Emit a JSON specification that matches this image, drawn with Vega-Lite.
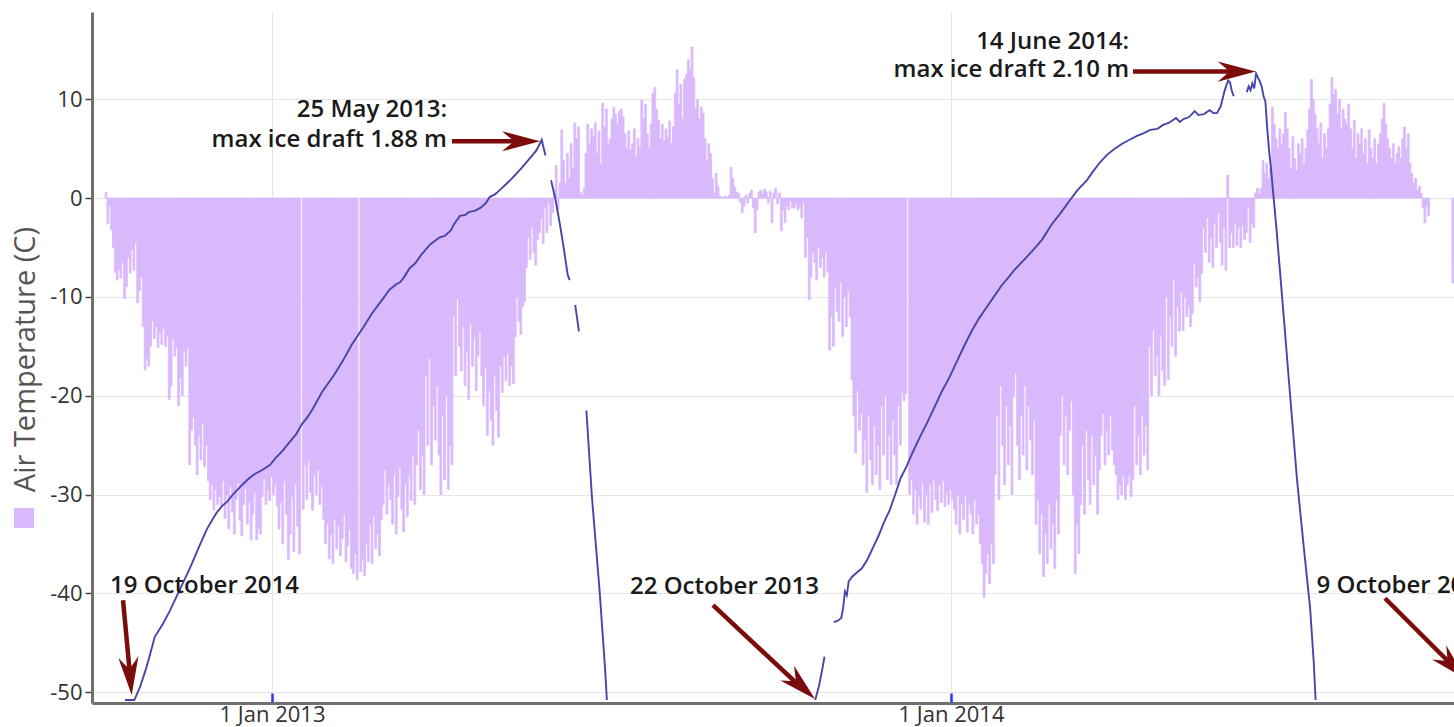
{
"$schema":"https://vega.github.io/schema/vega-lite/v6.json",
"width":1362,"height":691,"autosize":"none",
"padding":{"left":92,"top":12,"right":0,"bottom":24},
"background":"white",
"config":{"view":{"stroke":null},"font":"Open Sans"},
"datasets":{
"temp":[
{"d":"2012-10-03","t":0.6},{"d":"2012-10-04","t":-2.6},{"d":"2012-10-05","t":-0.8},{"d":"2012-10-06","t":-3.2},{"d":"2012-10-07","t":-5.0},{"d":"2012-10-08","t":-7.5},{"d":"2012-10-09","t":-8.3},{"d":"2012-10-10","t":-7.2},{"d":"2012-10-11","t":-8.1},{"d":"2012-10-12","t":-6.5},{"d":"2012-10-13","t":-10.2},{"d":"2012-10-14","t":-9.0},{"d":"2012-10-15","t":-6.0},{"d":"2012-10-16","t":-7.6},{"d":"2012-10-17","t":-5.2},{"d":"2012-10-18","t":-7.3},{"d":"2012-10-19","t":-4.5},{"d":"2012-10-20","t":-10.6},{"d":"2012-10-21","t":-9.4},{"d":"2012-10-22","t":-8.0},{"d":"2012-10-23","t":-13.0},{"d":"2012-10-24","t":-17.4},{"d":"2012-10-25","t":-16.2},{"d":"2012-10-26","t":-17.0},{"d":"2012-10-27","t":-15.0},{"d":"2012-10-28","t":-12.4},{"d":"2012-10-29","t":-14.2},{"d":"2012-10-30","t":-13.0},{"d":"2012-10-31","t":-15.1},
{"d":"2012-11-01","t":-13.6},{"d":"2012-11-02","t":-14.8},{"d":"2012-11-03","t":-13.2},{"d":"2012-11-04","t":-15.0},{"d":"2012-11-05","t":-14.0},{"d":"2012-11-06","t":-20.4},{"d":"2012-11-07","t":-19.0},{"d":"2012-11-08","t":-14.2},{"d":"2012-11-09","t":-16.0},{"d":"2012-11-10","t":-15.1},{"d":"2012-11-11","t":-21.0},{"d":"2012-11-12","t":-18.2},{"d":"2012-11-13","t":-20.0},{"d":"2012-11-14","t":-15.5},{"d":"2012-11-15","t":-17.0},{"d":"2012-11-16","t":-15.2},{"d":"2012-11-17","t":-27.0},{"d":"2012-11-18","t":-23.5},{"d":"2012-11-19","t":-22.2},{"d":"2012-11-20","t":-25.0},{"d":"2012-11-21","t":-28.0},{"d":"2012-11-22","t":-24.0},{"d":"2012-11-23","t":-26.5},{"d":"2012-11-24","t":-22.8},{"d":"2012-11-25","t":-27.2},{"d":"2012-11-26","t":-25.0},{"d":"2012-11-27","t":-28.6},{"d":"2012-11-28","t":-30.5},{"d":"2012-11-29","t":-29.0},{"d":"2012-11-30","t":-31.6},
{"d":"2012-12-01","t":-29.5},{"d":"2012-12-02","t":-31.0},{"d":"2012-12-03","t":-30.2},{"d":"2012-12-04","t":-31.2},{"d":"2012-12-05","t":-28.6},{"d":"2012-12-06","t":-32.4},{"d":"2012-12-07","t":-30.0},{"d":"2012-12-08","t":-33.5},{"d":"2012-12-09","t":-29.2},{"d":"2012-12-10","t":-31.8},{"d":"2012-12-11","t":-34.0},{"d":"2012-12-12","t":-30.5},{"d":"2012-12-13","t":-28.8},{"d":"2012-12-14","t":-32.6},{"d":"2012-12-15","t":-34.2},{"d":"2012-12-16","t":-31.0},{"d":"2012-12-17","t":-29.4},{"d":"2012-12-18","t":-33.0},{"d":"2012-12-19","t":-30.8},{"d":"2012-12-20","t":-34.6},{"d":"2012-12-21","t":-32.0},{"d":"2012-12-22","t":-29.8},{"d":"2012-12-23","t":-34.6},{"d":"2012-12-24","t":-33.4},{"d":"2012-12-25","t":-34.0},{"d":"2012-12-26","t":-30.2},{"d":"2012-12-27","t":-28.4},{"d":"2012-12-28","t":-31.0},{"d":"2012-12-29","t":-29.5},{"d":"2012-12-30","t":-30.6},{"d":"2012-12-31","t":-28.2},
{"d":"2013-01-01","t":-30.0},{"d":"2013-01-02","t":-29.0},{"d":"2013-01-03","t":-31.2},{"d":"2013-01-04","t":-33.5},{"d":"2013-01-05","t":-30.8},{"d":"2013-01-06","t":-35.0},{"d":"2013-01-07","t":-28.6},{"d":"2013-01-08","t":-32.0},{"d":"2013-01-09","t":-36.6},{"d":"2013-01-10","t":-34.0},{"d":"2013-01-11","t":-30.2},{"d":"2013-01-12","t":-35.8},{"d":"2013-01-13","t":-29.0},{"d":"2013-01-14","t":-33.2},{"d":"2013-01-15","t":-36.0},{"d":"2013-01-17","t":-31.5},{"d":"2013-01-18","t":-27.0},{"d":"2013-01-19","t":-30.5},{"d":"2013-01-20","t":-26.6},{"d":"2013-01-21","t":-29.8},{"d":"2013-01-22","t":-31.6},{"d":"2013-01-23","t":-28.0},{"d":"2013-01-24","t":-30.0},{"d":"2013-01-25","t":-27.5},{"d":"2013-01-26","t":-31.0},{"d":"2013-01-27","t":-29.2},{"d":"2013-01-28","t":-32.5},{"d":"2013-01-29","t":-35.0},{"d":"2013-01-30","t":-33.0},{"d":"2013-01-31","t":-36.5},
{"d":"2013-02-01","t":-34.0},{"d":"2013-02-02","t":-37.0},{"d":"2013-02-03","t":-32.5},{"d":"2013-02-04","t":-35.5},{"d":"2013-02-05","t":-33.2},{"d":"2013-02-06","t":-36.2},{"d":"2013-02-07","t":-34.5},{"d":"2013-02-08","t":-32.0},{"d":"2013-02-09","t":-36.8},{"d":"2013-02-10","t":-35.2},{"d":"2013-02-11","t":-33.5},{"d":"2013-02-12","t":-37.5},{"d":"2013-02-13","t":-38.0},{"d":"2013-02-14","t":-36.0},{"d":"2013-02-15","t":-38.6},{"d":"2013-02-17","t":-37.8},{"d":"2013-02-18","t":-36.5},{"d":"2013-02-19","t":-38.2},{"d":"2013-02-20","t":-35.0},{"d":"2013-02-21","t":-36.8},{"d":"2013-02-22","t":-33.0},{"d":"2013-02-23","t":-37.0},{"d":"2013-02-24","t":-32.2},{"d":"2013-02-25","t":-35.5},{"d":"2013-02-26","t":-34.0},{"d":"2013-02-27","t":-36.2},{"d":"2013-02-28","t":-32.5},
{"d":"2013-03-01","t":-31.0},{"d":"2013-03-02","t":-27.5},{"d":"2013-03-03","t":-32.0},{"d":"2013-03-04","t":-29.0},{"d":"2013-03-05","t":-30.5},{"d":"2013-03-06","t":-33.0},{"d":"2013-03-07","t":-28.0},{"d":"2013-03-08","t":-34.0},{"d":"2013-03-09","t":-30.2},{"d":"2013-03-10","t":-27.2},{"d":"2013-03-11","t":-31.5},{"d":"2013-03-12","t":-33.8},{"d":"2013-03-13","t":-29.0},{"d":"2013-03-14","t":-32.2},{"d":"2013-03-15","t":-28.0},{"d":"2013-03-16","t":-30.6},{"d":"2013-03-17","t":-26.0},{"d":"2013-03-18","t":-31.0},{"d":"2013-03-19","t":-27.0},{"d":"2013-03-20","t":-23.5},{"d":"2013-03-21","t":-29.5},{"d":"2013-03-22","t":-26.0},{"d":"2013-03-23","t":-30.0},{"d":"2013-03-24","t":-18.0},{"d":"2013-03-25","t":-25.0},{"d":"2013-03-26","t":-16.2},{"d":"2013-03-27","t":-27.0},{"d":"2013-03-28","t":-21.0},{"d":"2013-03-29","t":-24.5},{"d":"2013-03-30","t":-19.0},{"d":"2013-03-31","t":-26.0},
{"d":"2013-04-01","t":-30.0},{"d":"2013-04-02","t":-22.0},{"d":"2013-04-03","t":-28.5},{"d":"2013-04-04","t":-20.0},{"d":"2013-04-05","t":-29.5},{"d":"2013-04-06","t":-25.0},{"d":"2013-04-07","t":-27.0},{"d":"2013-04-08","t":-12.0},{"d":"2013-04-09","t":-18.0},{"d":"2013-04-10","t":-10.2},{"d":"2013-04-11","t":-15.0},{"d":"2013-04-12","t":-17.5},{"d":"2013-04-13","t":-13.0},{"d":"2013-04-14","t":-19.0},{"d":"2013-04-15","t":-15.5},{"d":"2013-04-16","t":-20.4},{"d":"2013-04-17","t":-12.7},{"d":"2013-04-18","t":-17.0},{"d":"2013-04-19","t":-14.2},{"d":"2013-04-20","t":-19.5},{"d":"2013-04-21","t":-16.0},{"d":"2013-04-22","t":-13.5},{"d":"2013-04-23","t":-18.0},{"d":"2013-04-24","t":-21.0},{"d":"2013-04-25","t":-17.2},{"d":"2013-04-26","t":-24.0},{"d":"2013-04-27","t":-19.5},{"d":"2013-04-28","t":-22.5},{"d":"2013-04-29","t":-25.0},{"d":"2013-04-30","t":-18.0},
{"d":"2013-05-01","t":-21.5},{"d":"2013-05-02","t":-24.2},{"d":"2013-05-03","t":-17.0},{"d":"2013-05-04","t":-19.7},{"d":"2013-05-05","t":-16.0},{"d":"2013-05-06","t":-18.5},{"d":"2013-05-07","t":-15.7},{"d":"2013-05-08","t":-19.0},{"d":"2013-05-09","t":-17.0},{"d":"2013-05-10","t":-18.8},{"d":"2013-05-11","t":-14.0},{"d":"2013-05-12","t":-10.0},{"d":"2013-05-13","t":-12.5},{"d":"2013-05-14","t":-13.8},{"d":"2013-05-15","t":-11.0},{"d":"2013-05-16","t":-10.5},{"d":"2013-05-17","t":-7.0},{"d":"2013-05-18","t":-4.0},{"d":"2013-05-19","t":-6.2},{"d":"2013-05-20","t":-3.0},{"d":"2013-05-21","t":-5.5},{"d":"2013-05-22","t":-6.8},{"d":"2013-05-23","t":-4.2},{"d":"2013-05-24","t":-3.5},{"d":"2013-05-25","t":-2.0},{"d":"2013-05-26","t":-4.6},{"d":"2013-05-27","t":-1.0},{"d":"2013-05-28","t":-3.5},{"d":"2013-05-29","t":-0.5},{"d":"2013-05-30","t":-2.8},{"d":"2013-05-31","t":-1.5},
{"d":"2013-06-01","t":0.8},{"d":"2013-06-02","t":3.3},{"d":"2013-06-03","t":-1.2},{"d":"2013-06-04","t":1.5},{"d":"2013-06-05","t":6.9},{"d":"2013-06-06","t":3.8},{"d":"2013-06-07","t":1.5},{"d":"2013-06-08","t":4.5},{"d":"2013-06-09","t":2.0},{"d":"2013-06-10","t":5.5},{"d":"2013-06-11","t":3.0},{"d":"2013-06-12","t":7.6},{"d":"2013-06-13","t":6.0},{"d":"2013-06-14","t":7.2},{"d":"2013-06-15","t":0.6},{"d":"2013-06-16","t":0.3},{"d":"2013-06-17","t":1.0},{"d":"2013-06-18","t":4.5},{"d":"2013-06-19","t":7.5},{"d":"2013-06-20","t":5.5},{"d":"2013-06-21","t":7.0},{"d":"2013-06-22","t":6.2},{"d":"2013-06-23","t":7.6},{"d":"2013-06-24","t":4.5},{"d":"2013-06-25","t":6.8},{"d":"2013-06-26","t":3.5},{"d":"2013-06-27","t":9.6},{"d":"2013-06-28","t":7.2},{"d":"2013-06-29","t":9.0},{"d":"2013-06-30","t":5.5},
{"d":"2013-07-01","t":6.0},{"d":"2013-07-02","t":8.0},{"d":"2013-07-03","t":9.2},{"d":"2013-07-04","t":8.5},{"d":"2013-07-05","t":7.5},{"d":"2013-07-06","t":8.8},{"d":"2013-07-07","t":9.0},{"d":"2013-07-08","t":8.2},{"d":"2013-07-09","t":6.5},{"d":"2013-07-10","t":5.0},{"d":"2013-07-11","t":6.8},{"d":"2013-07-12","t":4.8},{"d":"2013-07-13","t":5.5},{"d":"2013-07-14","t":7.0},{"d":"2013-07-15","t":4.2},{"d":"2013-07-16","t":6.0},{"d":"2013-07-17","t":5.2},{"d":"2013-07-18","t":9.9},{"d":"2013-07-19","t":8.0},{"d":"2013-07-20","t":9.5},{"d":"2013-07-21","t":6.5},{"d":"2013-07-22","t":5.0},{"d":"2013-07-23","t":7.5},{"d":"2013-07-24","t":10.6},{"d":"2013-07-25","t":11.2},{"d":"2013-07-26","t":9.0},{"d":"2013-07-27","t":7.9},{"d":"2013-07-28","t":6.0},{"d":"2013-07-29","t":7.5},{"d":"2013-07-30","t":5.8},{"d":"2013-07-31","t":7.0},
{"d":"2013-08-01","t":6.2},{"d":"2013-08-02","t":7.8},{"d":"2013-08-03","t":5.5},{"d":"2013-08-04","t":7.2},{"d":"2013-08-05","t":10.6},{"d":"2013-08-06","t":13.0},{"d":"2013-08-07","t":9.5},{"d":"2013-08-08","t":11.5},{"d":"2013-08-09","t":8.0},{"d":"2013-08-10","t":12.0},{"d":"2013-08-11","t":12.5},{"d":"2013-08-12","t":14.0},{"d":"2013-08-13","t":13.0},{"d":"2013-08-14","t":15.3},{"d":"2013-08-15","t":12.2},{"d":"2013-08-16","t":9.0},{"d":"2013-08-17","t":10.0},{"d":"2013-08-18","t":8.0},{"d":"2013-08-19","t":9.2},{"d":"2013-08-20","t":8.6},{"d":"2013-08-21","t":6.0},{"d":"2013-08-22","t":3.8},{"d":"2013-08-23","t":5.5},{"d":"2013-08-24","t":4.5},{"d":"2013-08-25","t":2.0},{"d":"2013-08-26","t":0.5},{"d":"2013-08-27","t":2.5},{"d":"2013-08-28","t":1.2},{"d":"2013-08-29","t":0.2},{"d":"2013-08-30","t":0.1},{"d":"2013-08-31","t":0.1},
{"d":"2013-09-01","t":0.2},{"d":"2013-09-02","t":0.0},{"d":"2013-09-03","t":0.3},{"d":"2013-09-04","t":3.1},{"d":"2013-09-05","t":2.0},{"d":"2013-09-06","t":1.1},{"d":"2013-09-07","t":0.6},{"d":"2013-09-08","t":0.5},{"d":"2013-09-09","t":-0.4},{"d":"2013-09-10","t":-1.5},{"d":"2013-09-11","t":-0.8},{"d":"2013-09-12","t":0.3},{"d":"2013-09-13","t":-0.5},{"d":"2013-09-14","t":0.5},{"d":"2013-09-15","t":0.8},{"d":"2013-09-16","t":-1.0},{"d":"2013-09-17","t":-3.5},{"d":"2013-09-18","t":-1.2},{"d":"2013-09-19","t":0.6},{"d":"2013-09-20","t":0.8},{"d":"2013-09-21","t":0.4},{"d":"2013-09-22","t":0.9},{"d":"2013-09-23","t":0.6},{"d":"2013-09-24","t":-0.5},{"d":"2013-09-25","t":0.7},{"d":"2013-09-26","t":-2.5},{"d":"2013-09-27","t":0.5},{"d":"2013-09-28","t":1.0},{"d":"2013-09-29","t":-0.6},{"d":"2013-09-30","t":0.5},
{"d":"2013-10-01","t":-3.3},{"d":"2013-10-02","t":-1.2},{"d":"2013-10-03","t":-2.5},{"d":"2013-10-04","t":-0.8},{"d":"2013-10-05","t":-1.2},{"d":"2013-10-06","t":-0.3},{"d":"2013-10-07","t":-1.0},{"d":"2013-10-08","t":-1.0},{"d":"2013-10-09","t":-0.6},{"d":"2013-10-10","t":-1.2},{"d":"2013-10-11","t":-0.9},{"d":"2013-10-12","t":-2.0},{"d":"2013-10-13","t":-0.5},{"d":"2013-10-14","t":-6.0},{"d":"2013-10-15","t":-4.0},{"d":"2013-10-16","t":-10.3},{"d":"2013-10-17","t":-8.0},{"d":"2013-10-18","t":-5.5},{"d":"2013-10-19","t":-6.5},{"d":"2013-10-20","t":-8.3},{"d":"2013-10-21","t":-5.0},{"d":"2013-10-22","t":-7.0},{"d":"2013-10-23","t":-6.0},{"d":"2013-10-24","t":-8.0},{"d":"2013-10-25","t":-5.5},{"d":"2013-10-26","t":-7.5},{"d":"2013-10-27","t":-15.4},{"d":"2013-10-28","t":-12.0},{"d":"2013-10-29","t":-15.0},{"d":"2013-10-30","t":-9.0},{"d":"2013-10-31","t":-11.5},
{"d":"2013-11-01","t":-12.5},{"d":"2013-11-02","t":-8.5},{"d":"2013-11-03","t":-14.0},{"d":"2013-11-04","t":-10.0},{"d":"2013-11-05","t":-13.0},{"d":"2013-11-06","t":-9.5},{"d":"2013-11-07","t":-12.0},{"d":"2013-11-08","t":-18.4},{"d":"2013-11-09","t":-22.0},{"d":"2013-11-10","t":-25.8},{"d":"2013-11-11","t":-19.5},{"d":"2013-11-12","t":-23.5},{"d":"2013-11-13","t":-21.8},{"d":"2013-11-14","t":-27.0},{"d":"2013-11-15","t":-24.5},{"d":"2013-11-16","t":-29.8},{"d":"2013-11-17","t":-22.0},{"d":"2013-11-18","t":-26.5},{"d":"2013-11-19","t":-29.0},{"d":"2013-11-20","t":-23.0},{"d":"2013-11-21","t":-28.0},{"d":"2013-11-22","t":-25.0},{"d":"2013-11-23","t":-29.5},{"d":"2013-11-24","t":-21.0},{"d":"2013-11-25","t":-26.0},{"d":"2013-11-26","t":-20.0},{"d":"2013-11-27","t":-28.5},{"d":"2013-11-28","t":-24.0},{"d":"2013-11-29","t":-29.0},{"d":"2013-11-30","t":-22.5},
{"d":"2013-12-01","t":-26.0},{"d":"2013-12-02","t":-29.0},{"d":"2013-12-03","t":-21.0},{"d":"2013-12-04","t":-25.0},{"d":"2013-12-05","t":-19.7},{"d":"2013-12-06","t":-20.5},{"d":"2013-12-07","t":-19.8},{"d":"2013-12-09","t":-30.0},{"d":"2013-12-10","t":-28.5},{"d":"2013-12-11","t":-32.0},{"d":"2013-12-12","t":-29.5},{"d":"2013-12-13","t":-33.0},{"d":"2013-12-14","t":-30.2},{"d":"2013-12-15","t":-31.5},{"d":"2013-12-16","t":-28.8},{"d":"2013-12-17","t":-32.8},{"d":"2013-12-18","t":-30.0},{"d":"2013-12-19","t":-33.0},{"d":"2013-12-20","t":-29.0},{"d":"2013-12-21","t":-31.8},{"d":"2013-12-22","t":-28.5},{"d":"2013-12-23","t":-30.5},{"d":"2013-12-24","t":-31.6},{"d":"2013-12-25","t":-29.0},{"d":"2013-12-26","t":-30.8},{"d":"2013-12-27","t":-28.6},{"d":"2013-12-28","t":-31.2},{"d":"2013-12-29","t":-29.8},{"d":"2013-12-30","t":-31.0},{"d":"2013-12-31","t":-29.5},
{"d":"2014-01-01","t":-30.5},{"d":"2014-01-02","t":-31.5},{"d":"2014-01-03","t":-33.0},{"d":"2014-01-04","t":-30.0},{"d":"2014-01-05","t":-34.0},{"d":"2014-01-06","t":-31.0},{"d":"2014-01-07","t":-32.5},{"d":"2014-01-08","t":-30.2},{"d":"2014-01-09","t":-33.8},{"d":"2014-01-10","t":-31.0},{"d":"2014-01-11","t":-32.0},{"d":"2014-01-12","t":-34.0},{"d":"2014-01-13","t":-30.5},{"d":"2014-01-14","t":-33.0},{"d":"2014-01-15","t":-32.0},{"d":"2014-01-16","t":-35.0},{"d":"2014-01-17","t":-37.0},{"d":"2014-01-18","t":-40.4},{"d":"2014-01-19","t":-38.0},{"d":"2014-01-20","t":-36.0},{"d":"2014-01-21","t":-39.0},{"d":"2014-01-22","t":-35.0},{"d":"2014-01-23","t":-37.0},{"d":"2014-01-24","t":-28.0},{"d":"2014-01-25","t":-22.0},{"d":"2014-01-26","t":-30.5},{"d":"2014-01-27","t":-19.0},{"d":"2014-01-28","t":-25.0},{"d":"2014-01-29","t":-29.0},{"d":"2014-01-30","t":-21.0},{"d":"2014-01-31","t":-27.0},
{"d":"2014-02-01","t":-23.0},{"d":"2014-02-02","t":-30.0},{"d":"2014-02-03","t":-20.0},{"d":"2014-02-04","t":-17.7},{"d":"2014-02-05","t":-25.0},{"d":"2014-02-06","t":-28.5},{"d":"2014-02-07","t":-22.0},{"d":"2014-02-08","t":-26.0},{"d":"2014-02-09","t":-19.0},{"d":"2014-02-10","t":-27.5},{"d":"2014-02-11","t":-21.0},{"d":"2014-02-12","t":-24.5},{"d":"2014-02-13","t":-28.0},{"d":"2014-02-14","t":-22.5},{"d":"2014-02-15","t":-33.0},{"d":"2014-02-16","t":-30.5},{"d":"2014-02-17","t":-36.0},{"d":"2014-02-18","t":-32.0},{"d":"2014-02-19","t":-38.3},{"d":"2014-02-20","t":-34.0},{"d":"2014-02-21","t":-37.0},{"d":"2014-02-22","t":-31.0},{"d":"2014-02-23","t":-35.5},{"d":"2014-02-24","t":-33.0},{"d":"2014-02-25","t":-37.5},{"d":"2014-02-26","t":-30.5},{"d":"2014-02-27","t":-34.0},{"d":"2014-02-28","t":-24.0},
{"d":"2014-03-01","t":-20.0},{"d":"2014-03-02","t":-27.0},{"d":"2014-03-03","t":-22.0},{"d":"2014-03-04","t":-28.0},{"d":"2014-03-05","t":-23.5},{"d":"2014-03-06","t":-20.5},{"d":"2014-03-07","t":-30.0},{"d":"2014-03-08","t":-38.0},{"d":"2014-03-09","t":-33.0},{"d":"2014-03-10","t":-36.0},{"d":"2014-03-11","t":-31.0},{"d":"2014-03-12","t":-25.0},{"d":"2014-03-13","t":-32.0},{"d":"2014-03-14","t":-23.5},{"d":"2014-03-15","t":-28.5},{"d":"2014-03-16","t":-31.0},{"d":"2014-03-17","t":-24.0},{"d":"2014-03-18","t":-29.0},{"d":"2014-03-19","t":-26.0},{"d":"2014-03-20","t":-32.0},{"d":"2014-03-21","t":-27.5},{"d":"2014-03-22","t":-24.0},{"d":"2014-03-23","t":-21.8},{"d":"2014-03-24","t":-27.0},{"d":"2014-03-25","t":-23.5},{"d":"2014-03-26","t":-26.0},{"d":"2014-03-27","t":-22.0},{"d":"2014-03-28","t":-25.5},{"d":"2014-03-29","t":-27.0},{"d":"2014-03-30","t":-28.0},{"d":"2014-03-31","t":-30.5},
{"d":"2014-04-01","t":-29.0},{"d":"2014-04-02","t":-30.0},{"d":"2014-04-03","t":-28.2},{"d":"2014-04-04","t":-30.5},{"d":"2014-04-05","t":-29.0},{"d":"2014-04-06","t":-28.0},{"d":"2014-04-07","t":-30.2},{"d":"2014-04-08","t":-28.5},{"d":"2014-04-09","t":-21.0},{"d":"2014-04-10","t":-27.0},{"d":"2014-04-11","t":-24.0},{"d":"2014-04-12","t":-28.0},{"d":"2014-04-13","t":-22.0},{"d":"2014-04-14","t":-26.0},{"d":"2014-04-15","t":-23.0},{"d":"2014-04-16","t":-27.5},{"d":"2014-04-17","t":-15.0},{"d":"2014-04-18","t":-20.0},{"d":"2014-04-19","t":-13.4},{"d":"2014-04-20","t":-18.0},{"d":"2014-04-21","t":-16.0},{"d":"2014-04-22","t":-20.0},{"d":"2014-04-23","t":-14.0},{"d":"2014-04-24","t":-17.5},{"d":"2014-04-25","t":-19.0},{"d":"2014-04-26","t":-10.0},{"d":"2014-04-27","t":-18.4},{"d":"2014-04-28","t":-12.0},{"d":"2014-04-29","t":-15.0},{"d":"2014-04-30","t":-8.3},
{"d":"2014-05-01","t":-16.0},{"d":"2014-05-02","t":-11.0},{"d":"2014-05-03","t":-13.5},{"d":"2014-05-04","t":-9.5},{"d":"2014-05-05","t":-13.4},{"d":"2014-05-06","t":-10.0},{"d":"2014-05-07","t":-12.0},{"d":"2014-05-08","t":-11.0},{"d":"2014-05-09","t":-13.0},{"d":"2014-05-10","t":-11.7},{"d":"2014-05-11","t":-6.6},{"d":"2014-05-12","t":-9.0},{"d":"2014-05-13","t":-8.0},{"d":"2014-05-14","t":-10.5},{"d":"2014-05-15","t":-7.6},{"d":"2014-05-16","t":-3.0},{"d":"2014-05-17","t":-5.5},{"d":"2014-05-18","t":-2.0},{"d":"2014-05-19","t":-6.5},{"d":"2014-05-20","t":-4.0},{"d":"2014-05-21","t":-7.0},{"d":"2014-05-22","t":-2.5},{"d":"2014-05-23","t":-5.0},{"d":"2014-05-24","t":-1.5},{"d":"2014-05-25","t":-4.5},{"d":"2014-05-26","t":-6.8},{"d":"2014-05-27","t":-3.0},{"d":"2014-05-28","t":-7.3},{"d":"2014-05-29","t":2.3},{"d":"2014-05-30","t":-5.0},{"d":"2014-05-31","t":-3.5},
{"d":"2014-06-01","t":-5.0},{"d":"2014-06-02","t":-2.5},{"d":"2014-06-03","t":-4.8},{"d":"2014-06-04","t":-3.0},{"d":"2014-06-05","t":-5.0},{"d":"2014-06-06","t":-2.8},{"d":"2014-06-07","t":-4.2},{"d":"2014-06-08","t":-3.5},{"d":"2014-06-09","t":-0.9},{"d":"2014-06-10","t":-4.5},{"d":"2014-06-11","t":-2.5},{"d":"2014-06-12","t":-3.0},{"d":"2014-06-13","t":0.5},{"d":"2014-06-14","t":1.0},{"d":"2014-06-15","t":0.4},{"d":"2014-06-16","t":1.0},{"d":"2014-06-17","t":3.8},{"d":"2014-06-18","t":2.5},{"d":"2014-06-19","t":3.5},{"d":"2014-06-20","t":2.0},{"d":"2014-06-21","t":3.0},{"d":"2014-06-22","t":9.2},{"d":"2014-06-23","t":7.5},{"d":"2014-06-24","t":6.0},{"d":"2014-06-25","t":5.0},{"d":"2014-06-26","t":7.0},{"d":"2014-06-27","t":5.5},{"d":"2014-06-28","t":6.5},{"d":"2014-06-29","t":8.7},{"d":"2014-06-30","t":7.0},
{"d":"2014-07-01","t":5.0},{"d":"2014-07-02","t":3.0},{"d":"2014-07-03","t":6.2},{"d":"2014-07-04","t":4.0},{"d":"2014-07-05","t":2.8},{"d":"2014-07-06","t":5.5},{"d":"2014-07-07","t":4.5},{"d":"2014-07-08","t":6.0},{"d":"2014-07-09","t":3.5},{"d":"2014-07-10","t":5.0},{"d":"2014-07-11","t":6.9},{"d":"2014-07-12","t":9.0},{"d":"2014-07-13","t":12.0},{"d":"2014-07-14","t":10.0},{"d":"2014-07-15","t":8.5},{"d":"2014-07-16","t":7.0},{"d":"2014-07-17","t":5.5},{"d":"2014-07-18","t":7.6},{"d":"2014-07-19","t":4.0},{"d":"2014-07-20","t":6.5},{"d":"2014-07-21","t":5.0},{"d":"2014-07-22","t":7.0},{"d":"2014-07-23","t":9.5},{"d":"2014-07-24","t":12.2},{"d":"2014-07-25","t":10.5},{"d":"2014-07-26","t":11.0},{"d":"2014-07-27","t":8.5},{"d":"2014-07-28","t":10.0},{"d":"2014-07-29","t":7.0},{"d":"2014-07-30","t":9.0},{"d":"2014-07-31","t":8.0},
{"d":"2014-08-01","t":7.5},{"d":"2014-08-02","t":9.5},{"d":"2014-08-03","t":7.0},{"d":"2014-08-04","t":5.0},{"d":"2014-08-05","t":7.9},{"d":"2014-08-06","t":4.0},{"d":"2014-08-07","t":6.5},{"d":"2014-08-08","t":5.5},{"d":"2014-08-09","t":7.0},{"d":"2014-08-10","t":4.5},{"d":"2014-08-11","t":6.0},{"d":"2014-08-12","t":3.5},{"d":"2014-08-13","t":6.9},{"d":"2014-08-14","t":5.0},{"d":"2014-08-15","t":4.0},{"d":"2014-08-16","t":6.0},{"d":"2014-08-17","t":3.5},{"d":"2014-08-18","t":5.5},{"d":"2014-08-19","t":6.5},{"d":"2014-08-20","t":8.0},{"d":"2014-08-21","t":9.6},{"d":"2014-08-22","t":7.5},{"d":"2014-08-23","t":6.0},{"d":"2014-08-24","t":5.0},{"d":"2014-08-25","t":4.0},{"d":"2014-08-26","t":5.5},{"d":"2014-08-27","t":3.5},{"d":"2014-08-28","t":4.5},{"d":"2014-08-29","t":5.2},{"d":"2014-08-30","t":4.0},{"d":"2014-08-31","t":6.0},
{"d":"2014-09-01","t":7.2},{"d":"2014-09-02","t":5.0},{"d":"2014-09-03","t":6.5},{"d":"2014-09-04","t":3.5},{"d":"2014-09-05","t":2.5},{"d":"2014-09-06","t":1.5},{"d":"2014-09-07","t":2.0},{"d":"2014-09-08","t":0.8},{"d":"2014-09-09","t":1.2},{"d":"2014-09-10","t":0.5},{"d":"2014-09-11","t":-1.0},{"d":"2014-09-12","t":-2.5},{"d":"2014-09-13","t":-0.8},{"d":"2014-09-14","t":-1.8},{"d":"2014-09-27","t":-8.6},{"d":"2014-09-28","t":-6.0}
],
"draft":[
{"d":"2012-10-14","v":-50.8,"s":"a"},{"d":"2012-10-19","v":-50.8,"s":"a"},{"d":"2012-10-22","v":-49.5,"s":"a"},{"d":"2012-10-25","v":-47.8,"s":"a"},{"d":"2012-10-27","v":-46.5,"s":"a"},{"d":"2012-10-30","v":-44.4,"s":"a"},{"d":"2012-11-03","v":-43.2,"s":"a"},{"d":"2012-11-07","v":-41.8,"s":"a"},{"d":"2012-11-12","v":-39.8,"s":"a"},{"d":"2012-11-18","v":-37.4,"s":"a"},{"d":"2012-11-23","v":-35.2,"s":"a"},{"d":"2012-11-27","v":-33.5,"s":"a"},{"d":"2012-12-02","v":-31.9,"s":"a"},{"d":"2012-12-05","v":-31.2,"s":"a"},{"d":"2012-12-08","v":-30.7,"s":"a"},{"d":"2012-12-11","v":-30.0,"s":"a"},{"d":"2012-12-15","v":-29.2,"s":"a"},{"d":"2012-12-20","v":-28.3,"s":"a"},{"d":"2012-12-23","v":-27.9,"s":"a"},{"d":"2012-12-27","v":-27.5,"s":"a"},{"d":"2012-12-31","v":-27.0,"s":"a"},{"d":"2013-01-03","v":-26.3,"s":"a"},{"d":"2013-01-07","v":-25.5,"s":"a"},{"d":"2013-01-10","v":-24.8,"s":"a"},{"d":"2013-01-14","v":-23.9,"s":"a"},{"d":"2013-01-17","v":-22.9,"s":"a"},{"d":"2013-01-20","v":-22.2,"s":"a"},{"d":"2013-01-23","v":-21.3,"s":"a"},{"d":"2013-01-28","v":-19.6,"s":"a"},{"d":"2013-02-03","v":-18.0,"s":"a"},{"d":"2013-02-08","v":-16.5,"s":"a"},{"d":"2013-02-13","v":-14.8,"s":"a"},{"d":"2013-02-19","v":-13.1,"s":"a"},{"d":"2013-02-24","v":-11.6,"s":"a"},{"d":"2013-03-02","v":-10.1,"s":"a"},{"d":"2013-03-05","v":-9.3,"s":"a"},{"d":"2013-03-09","v":-8.7,"s":"a"},{"d":"2013-03-11","v":-8.5,"s":"a"},{"d":"2013-03-13","v":-8.0,"s":"a"},{"d":"2013-03-16","v":-7.1,"s":"a"},{"d":"2013-03-19","v":-6.6,"s":"a"},{"d":"2013-03-22","v":-5.8,"s":"a"},{"d":"2013-03-27","v":-4.7,"s":"a"},{"d":"2013-04-01","v":-4.0,"s":"a"},{"d":"2013-04-04","v":-3.8,"s":"a"},{"d":"2013-04-07","v":-3.3,"s":"a"},{"d":"2013-04-09","v":-2.6,"s":"a"},{"d":"2013-04-12","v":-1.8,"s":"a"},{"d":"2013-04-15","v":-1.7,"s":"a"},{"d":"2013-04-17","v":-1.4,"s":"a"},{"d":"2013-04-20","v":-1.3,"s":"a"},{"d":"2013-04-23","v":-1.0,"s":"a"},{"d":"2013-04-26","v":-0.5,"s":"a"},{"d":"2013-04-28","v":0.1,"s":"a"},{"d":"2013-05-01","v":0.4,"s":"a"},{"d":"2013-05-04","v":0.9,"s":"a"},{"d":"2013-05-09","v":1.8,"s":"a"},{"d":"2013-05-12","v":2.4,"s":"a"},{"d":"2013-05-15","v":3.0,"s":"a"},{"d":"2013-05-19","v":3.9,"s":"a"},{"d":"2013-05-23","v":4.8,"s":"a"},{"d":"2013-05-25","v":5.5,"s":"a"},{"d":"2013-05-26","v":5.9,"s":"a"},{"d":"2013-05-27","v":5.1,"s":"a"},{"d":"2013-05-28","v":4.3,"s":"a"},
{"d":"2013-05-31","v":1.8,"s":"b"},{"d":"2013-06-02","v":0.2,"s":"b"},{"d":"2013-06-03","v":-0.8,"s":"b"},{"d":"2013-06-05","v":-2.9,"s":"b"},{"d":"2013-06-07","v":-5.3,"s":"b"},{"d":"2013-06-09","v":-7.8,"s":"b"},{"d":"2013-06-10","v":-8.3,"s":"b"},
{"d":"2013-06-13","v":-10.8,"s":"c"},{"d":"2013-06-15","v":-13.5,"s":"c"},
{"d":"2013-06-19","v":-21.5,"s":"d"},{"d":"2013-06-22","v":-30.3,"s":"d"},{"d":"2013-06-26","v":-39.5,"s":"d"},{"d":"2013-06-29","v":-47.5,"s":"d"},{"d":"2013-06-30","v":-50.8,"s":"d"},
{"d":"2013-10-20","v":-50.8,"s":"e"},{"d":"2013-10-22","v":-49.4,"s":"e"},{"d":"2013-10-24","v":-47.5,"s":"e"},{"d":"2013-10-25","v":-46.4,"s":"e"},
{"d":"2013-10-30","v":-42.9,"s":"f"},{"d":"2013-11-01","v":-42.8,"s":"f"},{"d":"2013-11-03","v":-42.5,"s":"f"},{"d":"2013-11-04","v":-41.5,"s":"f"},{"d":"2013-11-05","v":-39.8,"s":"f"},{"d":"2013-11-06","v":-40.2,"s":"f"},{"d":"2013-11-07","v":-38.8,"s":"f"},{"d":"2013-11-09","v":-38.3,"s":"f"},{"d":"2013-11-12","v":-37.8,"s":"f"},{"d":"2013-11-14","v":-37.5,"s":"f"},{"d":"2013-11-17","v":-36.6,"s":"f"},{"d":"2013-11-19","v":-35.8,"s":"f"},{"d":"2013-11-23","v":-34.2,"s":"f"},{"d":"2013-11-26","v":-32.8,"s":"f"},{"d":"2013-11-29","v":-31.6,"s":"f"},{"d":"2013-12-02","v":-30.0,"s":"f"},{"d":"2013-12-05","v":-28.3,"s":"f"},{"d":"2013-12-08","v":-27.2,"s":"f"},{"d":"2013-12-11","v":-25.9,"s":"f"},{"d":"2013-12-15","v":-24.3,"s":"f"},{"d":"2013-12-19","v":-22.8,"s":"f"},{"d":"2013-12-23","v":-21.2,"s":"f"},{"d":"2013-12-27","v":-19.6,"s":"f"},{"d":"2013-12-31","v":-18.2,"s":"f"},{"d":"2014-01-04","v":-16.6,"s":"f"},{"d":"2014-01-08","v":-15.0,"s":"f"},{"d":"2014-01-12","v":-13.5,"s":"f"},{"d":"2014-01-16","v":-12.2,"s":"f"},{"d":"2014-01-20","v":-11.1,"s":"f"},{"d":"2014-01-24","v":-10.0,"s":"f"},{"d":"2014-01-28","v":-8.9,"s":"f"},{"d":"2014-02-01","v":-8.0,"s":"f"},{"d":"2014-02-04","v":-7.3,"s":"f"},{"d":"2014-02-09","v":-6.3,"s":"f"},{"d":"2014-02-14","v":-5.3,"s":"f"},{"d":"2014-02-19","v":-4.2,"s":"f"},{"d":"2014-02-24","v":-2.7,"s":"f"},{"d":"2014-03-01","v":-1.5,"s":"f"},{"d":"2014-03-06","v":-0.2,"s":"f"},{"d":"2014-03-10","v":0.8,"s":"f"},{"d":"2014-03-15","v":1.8,"s":"f"},{"d":"2014-03-18","v":2.6,"s":"f"},{"d":"2014-03-22","v":3.6,"s":"f"},{"d":"2014-03-26","v":4.4,"s":"f"},{"d":"2014-03-30","v":5.0,"s":"f"},{"d":"2014-04-03","v":5.5,"s":"f"},{"d":"2014-04-07","v":5.9,"s":"f"},{"d":"2014-04-11","v":6.3,"s":"f"},{"d":"2014-04-15","v":6.6,"s":"f"},{"d":"2014-04-18","v":6.9,"s":"f"},{"d":"2014-04-22","v":7.0,"s":"f"},{"d":"2014-04-25","v":7.4,"s":"f"},{"d":"2014-04-28","v":7.6,"s":"f"},{"d":"2014-05-02","v":8.1,"s":"f"},{"d":"2014-05-04","v":7.7,"s":"f"},{"d":"2014-05-06","v":8.0,"s":"f"},{"d":"2014-05-09","v":8.2,"s":"f"},{"d":"2014-05-12","v":8.8,"s":"f"},{"d":"2014-05-14","v":8.4,"s":"f"},{"d":"2014-05-17","v":8.5,"s":"f"},{"d":"2014-05-20","v":8.9,"s":"f"},{"d":"2014-05-22","v":8.6,"s":"f"},{"d":"2014-05-24","v":8.6,"s":"f"},{"d":"2014-05-26","v":9.3,"s":"f"},{"d":"2014-05-28","v":10.8,"s":"f"},{"d":"2014-05-29","v":11.4,"s":"f"},{"d":"2014-05-30","v":11.9,"s":"f"},{"d":"2014-05-31","v":11.7,"s":"f"},{"d":"2014-06-01","v":10.8,"s":"f"},{"d":"2014-06-02","v":10.3,"s":"f"},
{"d":"2014-06-09","v":10.7,"s":"g"},{"d":"2014-06-10","v":11.3,"s":"g"},{"d":"2014-06-11","v":10.9,"s":"g"},{"d":"2014-06-12","v":11.6,"s":"g"},{"d":"2014-06-13","v":11.1,"s":"g"},{"d":"2014-06-14","v":12.6,"s":"g"},{"d":"2014-06-16","v":11.8,"s":"g"},{"d":"2014-06-17","v":11.3,"s":"g"},{"d":"2014-06-18","v":10.3,"s":"g"},{"d":"2014-06-19","v":9.8,"s":"g"},{"d":"2014-06-20","v":7.0,"s":"g"},{"d":"2014-06-21","v":4.8,"s":"g"},{"d":"2014-06-22","v":3.0,"s":"g"},{"d":"2014-06-25","v":-3.2,"s":"g"},{"d":"2014-06-29","v":-12.3,"s":"g"},{"d":"2014-07-01","v":-17.0,"s":"g"},{"d":"2014-07-06","v":-28.5,"s":"g"},{"d":"2014-07-10","v":-36.0,"s":"g"},{"d":"2014-07-13","v":-41.4,"s":"g"},{"d":"2014-07-15","v":-47.0,"s":"g"},{"d":"2014-07-16","v":-50.8,"s":"g"}
],
"arrows":[
{"id":"may2013","x1":"2013-04-07T18:00Z","y1":5.75,"x2":"2013-05-15T09:00Z","y2":5.75,"tx":"2013-05-25T02:00Z","ty":5.75},
{"id":"jun2014","x1":"2014-04-08T20:00Z","y1":12.8,"x2":"2014-06-04T12:00Z","y2":12.8,"tx":"2014-06-13T19:00Z","ty":12.8},
{"id":"oct2012","x1":"2012-10-12T22:00Z","y1":-40.7,"x2":"2012-10-16T20:00Z","y2":-48.6,"tx":"2012-10-17T14:00Z","ty":-50.3},
{"id":"oct2013","x1":"2013-08-26T01:00Z","y1":-41.2,"x2":"2013-10-13T23:30Z","y2":-49.8,"tx":"2013-10-19T21:00Z","ty":-50.7},
{"id":"oct2014","x1":"2014-08-22T07:00Z","y1":-40.5,"x2":"2014-09-29T02:30Z","y2":-47.6,"tx":"2014-10-04T20:00Z","ty":-48.7}
],
"labelsR":[
{"d":"2013-04-05T02:00Z","t":8.91,"label":"25 May 2013:"},
{"d":"2013-04-05T02:00Z","t":5.87,"label":"max ice draft 1.88 m"},
{"d":"2014-04-06T17:00Z","t":15.79,"label":"14 June 2014:"},
{"d":"2014-04-06T17:00Z","t":12.96,"label":"max ice draft 2.10 m"}
],
"labelsL":[
{"d":"2012-10-05T22:00Z","t":-39.3,"label":"19 October 2014"},
{"d":"2013-07-12T10:30Z","t":-39.4,"label":"22 October 2013"},
{"d":"2014-07-16T13:00Z","t":-39.3,"label":"9 October 2014"}
]
},
"layer":[
{"data":{"name":"temp"},
 "mark":{"type":"bar","clip":true,"binSpacing":0,"stroke":"#d9b9fc","strokeWidth":0.8},
 "encoding":{
  "x":{"field":"d","type":"temporal","timeUnit":"utcyearmonthdate",
   "scale":{"type":"utc","domain":[{"year":2012,"month":9,"date":26,"hours":5,"minutes":45,"utc":true},{"year":2014,"month":9,"date":28,"hours":9,"minutes":22,"utc":true}]},
   "axis":{"title":null,"values":[{"year":2013,"month":1,"date":1,"utc":true},{"year":2014,"month":1,"date":1,"utc":true}],
    "labelExpr":"utcFormat(datum.value, '%-d %b %Y')","labelFont":"Open Sans","labelFontSize":22,"labelColor":"#333333","labelFlush":false,
    "tickColor":"#2f2fff","tickWidth":2.5,"tickSize":-10,"labelPadding":11.5,
    "domainColor":"#707070","domainWidth":3,"grid":true,"gridColor":"#e6e6e6","gridWidth":1}},
  "y":{"field":"t","type":"quantitative","scale":{"domain":[-51.1,18.83],"nice":false,"zero":false},
   "axis":{"values":[-50,-40,-30,-20,-10,0,10],"labelExpr":"'' + datum.value","title":"Air Temperature (C)",
    "titleFont":"Open Sans","titleFontSize":29,"titleFontWeight":"normal","titleColor":"#555555","titleAngle":-90,"titleAlign":"center","titleBaseline":"middle","titleX":-67,"titleY":347,
    "labelFont":"Open Sans","labelFontSize":22,"labelColor":"#333333","labelPadding":3,"tickSize":7,"tickColor":"#444444","tickWidth":1.5,
    "domainColor":"#707070","domainWidth":3,"grid":true,"gridColor":"#e6e6e6","gridWidth":1}},
  "y2":{"datum":0},
  "color":{"datum":"Air Temperature","type":"nominal","scale":{"range":["#d9b9fc"]},
   "legend":{"orient":"none","legendX":-78,"legendY":496,"title":null,"symbolType":"square","symbolSize":400,"symbolStrokeWidth":0,"symbolOpacity":1,"symbolFillColor":"#d2aefa","labelExpr":"''","padding":0,"labelFontSize":1}}
 }},
{"data":{"name":"draft"},
 "mark":{"type":"line","color":"#4646a8","strokeWidth":1.9,"clip":true},
 "encoding":{
  "x":{"field":"d","type":"temporal"},
  "y":{"field":"v","type":"quantitative"},
  "detail":{"field":"s","type":"nominal"}
 }},
{"data":{"name":"arrows"},
 "mark":{"type":"rule","color":"#7a0c0c","strokeWidth":4.5,"clip":true},
 "encoding":{
  "x":{"field":"x1","type":"temporal"},"x2":{"field":"x2"},
  "y":{"field":"y1","type":"quantitative"},"y2":{"field":"y2"}
 }},
{"data":{"name":"arrows"},
 "transform":[{"filter":"datum.id === 'may2013' || datum.id === 'jun2014'"}],
 "mark":{"type":"point","shape":"M0,0L-0.53,2L0,1.37L0.53,2Z","size":1444,"angle":90,"filled":true,"color":"#7a0c0c","opacity":1,"strokeWidth":0,"clip":true},
 "encoding":{"x":{"field":"tx","type":"temporal"},"y":{"field":"ty","type":"quantitative"}}},
{"data":{"name":"arrows"},
 "transform":[{"filter":"datum.id === 'oct2012'"}],
 "mark":{"type":"point","shape":"M0,0L-0.53,2L0,1.37L0.53,2Z","size":1444,"angle":175,"filled":true,"color":"#7a0c0c","opacity":1,"strokeWidth":0,"clip":true},
 "encoding":{"x":{"field":"tx","type":"temporal"},"y":{"field":"ty","type":"quantitative"}}},
{"data":{"name":"arrows"},
 "transform":[{"filter":"datum.id === 'oct2013'"}],
 "mark":{"type":"point","shape":"M0,0L-0.53,2L0,1.37L0.53,2Z","size":1444,"angle":133,"filled":true,"color":"#7a0c0c","opacity":1,"strokeWidth":0,"clip":true},
 "encoding":{"x":{"field":"tx","type":"temporal"},"y":{"field":"ty","type":"quantitative"}}},
{"data":{"name":"arrows"},
 "transform":[{"filter":"datum.id === 'oct2014'"}],
 "mark":{"type":"point","shape":"M0,0L-0.53,2L0,1.37L0.53,2Z","size":1444,"angle":135,"filled":true,"color":"#7a0c0c","opacity":1,"strokeWidth":0,"clip":true},
 "encoding":{"x":{"field":"tx","type":"temporal"},"y":{"field":"ty","type":"quantitative"}}},
{"data":{"name":"labelsR"},
 "mark":{"type":"text","align":"right","baseline":"middle","font":"Open Sans","fontSize":24,"fontWeight":600,"color":"#1a1a1a"},
 "encoding":{"x":{"field":"d","type":"temporal"},"y":{"field":"t","type":"quantitative"},"text":{"field":"label"}}},
{"data":{"name":"labelsL"},
 "mark":{"type":"text","align":"left","baseline":"middle","font":"Open Sans","fontSize":24,"fontWeight":600,"color":"#1a1a1a"},
 "encoding":{"x":{"field":"d","type":"temporal"},"y":{"field":"t","type":"quantitative"},"text":{"field":"label"}}}
]
}
